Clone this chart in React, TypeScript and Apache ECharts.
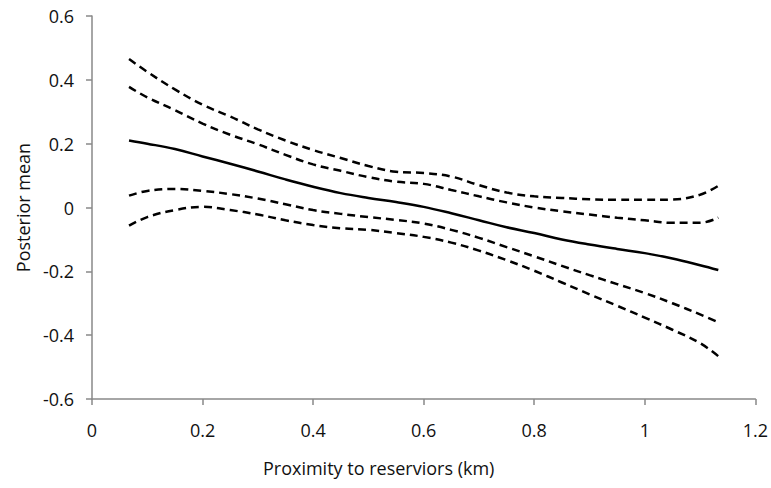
import React, { useEffect, useRef } from "react";
import * as echarts from "echarts";

const xValues = [0.067, 0.1, 0.15, 0.2, 0.25, 0.3, 0.35, 0.4, 0.45, 0.5, 0.55, 0.6, 0.65, 0.7, 0.75, 0.8, 0.85, 0.9, 0.95, 1.0, 1.05, 1.1, 1.133];

const meanValues = [0.21, 0.2, 0.183, 0.16, 0.137, 0.113, 0.088, 0.065, 0.045, 0.03, 0.017, 0.002, -0.018, -0.04, -0.062, -0.08, -0.1, -0.116, -0.13, -0.143, -0.16, -0.181, -0.196];

const upperOuter = [0.465, 0.425, 0.37, 0.322, 0.285, 0.245, 0.21, 0.18, 0.155, 0.13, 0.112, 0.108, 0.097, 0.07, 0.047, 0.035, 0.03, 0.026, 0.024, 0.024, 0.025, 0.04, 0.068];

const upperInner = [0.378, 0.345, 0.305, 0.263, 0.228, 0.198, 0.165, 0.135, 0.115, 0.095, 0.081, 0.074, 0.055, 0.035, 0.016, 0.0, -0.012, -0.022, -0.032, -0.04, -0.048, -0.048, -0.032];

const lowerInner = [0.037, 0.052, 0.058, 0.052, 0.042, 0.028, 0.01, -0.008, -0.02, -0.03, -0.039, -0.05, -0.07, -0.095, -0.124, -0.153, -0.183, -0.212, -0.24, -0.268, -0.3, -0.335, -0.36];

const lowerOuter = [-0.057, -0.03, -0.008, 0.002, -0.008, -0.022, -0.04, -0.055, -0.065, -0.07, -0.08, -0.092, -0.11, -0.135, -0.165, -0.198, -0.235, -0.272, -0.308, -0.345, -0.383, -0.425, -0.466];

const xAxisTitle = "Proximity to reserviors (km)";
const yAxisTitle = "Posterior mean";

const FONT = "'Open Sans', sans-serif";
const AXIS_COLOR = "#898989";
const TEXT_COLOR = "#111";

function pairs(ys: number[]) {
  return xValues.map((x, i) => [x, ys[i]]);
}

export default function App() {
  const ref = useRef<HTMLDivElement>(null);
  useEffect(() => {
    if (!ref.current) return;
    const chart = echarts.init(ref.current, null, { renderer: "svg" });
    const dashed = (name: string, ys: number[]) => ({
      name,
      type: "line",
      data: pairs(ys),
      smooth: 0.4,
      showSymbol: false,
      lineStyle: { color: "#000", width: 2.5, type: [8, 5] },
    });
    chart.setOption({
      animation: false,
      backgroundColor: "#fff",
      grid: { left: 92, right: 14, top: 16, bottom: 89, containLabel: false },
      xAxis: {
        type: "value",
        min: 0,
        max: 1.2,
        interval: 0.2,
        name: xAxisTitle,
        nameLocation: "middle",
        nameGap: 60,
        nameTextStyle: { fontFamily: FONT, fontSize: 18, color: TEXT_COLOR, padding: [0, 90, 0, 0] },
        axisLine: { show: true, onZero: false, lineStyle: { color: AXIS_COLOR, width: 1.5 } },
        axisTick: { show: true, inside: false, length: 6, lineStyle: { color: AXIS_COLOR, width: 1.5 } },
        axisLabel: { fontFamily: FONT, fontSize: 18, color: TEXT_COLOR, margin: 22, showMaxLabel: true, formatter: (v: number) => String(Math.round(v * 10) / 10) },
        splitLine: { show: false },
      },
      yAxis: {
        type: "value",
        min: -0.6,
        max: 0.6,
        interval: 0.2,
        name: yAxisTitle,
        nameLocation: "middle",
        nameRotate: 90,
        nameGap: 60,
        nameTextStyle: { fontFamily: FONT, fontSize: 18, color: TEXT_COLOR },
        axisLine: { show: true, onZero: false, lineStyle: { color: AXIS_COLOR, width: 1.5 } },
        axisTick: { show: true, inside: false, length: 6, lineStyle: { color: AXIS_COLOR, width: 1.5 } },
        axisLabel: { fontFamily: FONT, fontSize: 18, color: TEXT_COLOR, margin: 18, formatter: (v: number) => String(Math.round(v * 10) / 10) },
        splitLine: { show: false },
      },
      series: [
        dashed("Upper outer", upperOuter),
        dashed("Upper inner", upperInner),
        {
          name: "Posterior mean",
          type: "line",
          data: pairs(meanValues),
          smooth: 0.4,
          showSymbol: false,
          lineStyle: { color: "#000", width: 2.5 },
        },
        dashed("Lower inner", lowerInner),
        dashed("Lower outer", lowerOuter),
      ],
    });
    return () => chart.dispose();
  }, []);
  return <div ref={ref} style={{ position: "absolute", left: 0, top: 0, width: 771, height: 488 }} />;
}
